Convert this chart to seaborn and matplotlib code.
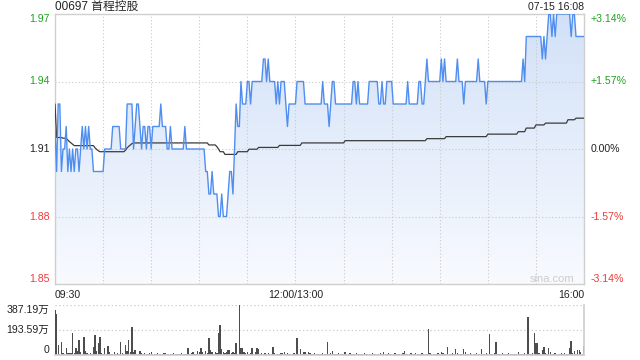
import numpy as np
import pandas as pd
import matplotlib
matplotlib.use("Agg")
import matplotlib.pyplot as plt
from matplotlib.colors import LinearSegmentedColormap
import seaborn as sns

# ---------------- data ----------------
title = "00697 首程控股"
stamp = "07-15 16:08"
prev_close = 1.91
price_ticks = [1.85, 1.88, 1.91, 1.94, 1.97]
pct_labels = ["-3.14%", "-1.57%", "0.00%", "+1.57%", "+3.14%"]
time_labels = ["09:30", "12:00/13:00", "16:00"]
vol_ticks = [0, 193.59, 387.19]
vol_labels = ["0", "193.59万", "387.19万"]

# one value per trading minute (09:30 .. 16:00, lunch removed)
price = [
    1.92, 1.90, 1.93, 1.93, 1.90, 1.91, 1.91, 1.92, 1.90, 1.91,
    1.90, 1.91, 1.90, 1.91, 1.91, 1.90, 1.91, 1.92, 1.91, 1.92,
    1.91, 1.92, 1.91, 1.91, 1.90, 1.90, 1.90, 1.90, 1.90, 1.90,
    1.90, 1.91, 1.91, 1.91, 1.91, 1.91, 1.92, 1.92, 1.92, 1.92,
    1.92, 1.91, 1.91, 1.91, 1.91, 1.93, 1.93, 1.93, 1.93, 1.91,
    1.92, 1.93, 1.93, 1.92, 1.91, 1.92, 1.92, 1.91, 1.92, 1.92,
    1.91, 1.92, 1.92, 1.92, 1.92, 1.92, 1.93, 1.92, 1.92, 1.92,
    1.91, 1.91, 1.92, 1.91, 1.91, 1.91, 1.91, 1.91, 1.91, 1.91,
    1.91, 1.92, 1.91, 1.91, 1.91, 1.91, 1.91, 1.91, 1.91, 1.91,
    1.91, 1.91, 1.91, 1.91, 1.90, 1.90, 1.89, 1.89, 1.90, 1.89,
    1.89, 1.89, 1.88, 1.88, 1.89, 1.88, 1.88, 1.88, 1.89, 1.90,
    1.90, 1.89, 1.91, 1.93, 1.92, 1.92, 1.94, 1.93, 1.93, 1.93,
    1.94, 1.94, 1.93, 1.94, 1.94, 1.94, 1.94, 1.94, 1.94, 1.94,
    1.95, 1.95, 1.94, 1.95, 1.94, 1.94, 1.94, 1.94, 1.93, 1.94,
    1.93, 1.94, 1.94, 1.94, 1.93, 1.92, 1.93, 1.93, 1.93, 1.93,
    1.93, 1.94, 1.94, 1.94, 1.94, 1.94, 1.93, 1.93, 1.93, 1.93,
    1.93, 1.93, 1.93, 1.93, 1.93, 1.93, 1.93, 1.94, 1.93, 1.93,
    1.93, 1.92, 1.93, 1.94, 1.94, 1.93, 1.93, 1.93, 1.93, 1.93,
    1.93, 1.93, 1.93, 1.93, 1.93, 1.93, 1.94, 1.94, 1.93, 1.94,
    1.93, 1.93, 1.93, 1.93, 1.93, 1.93, 1.94, 1.94, 1.94, 1.94,
    1.94, 1.94, 1.93, 1.93, 1.94, 1.93, 1.93, 1.94, 1.94, 1.94,
    1.94, 1.93, 1.93, 1.93, 1.93, 1.93, 1.93, 1.93, 1.93, 1.93,
    1.94, 1.93, 1.93, 1.93, 1.93, 1.93, 1.93, 1.94, 1.94, 1.93,
    1.93, 1.94, 1.95, 1.94, 1.94, 1.94, 1.94, 1.94, 1.94, 1.94,
    1.94, 1.95, 1.94, 1.95, 1.94, 1.94, 1.94, 1.94, 1.94, 1.94,
    1.94, 1.95, 1.94, 1.94, 1.94, 1.93, 1.94, 1.94, 1.94, 1.94,
    1.94, 1.94, 1.94, 1.94, 1.95, 1.94, 1.94, 1.94, 1.94, 1.93,
    1.94, 1.94, 1.94, 1.94, 1.94, 1.94, 1.94, 1.94, 1.94, 1.94,
    1.94, 1.94, 1.94, 1.94, 1.94, 1.94, 1.94, 1.94, 1.94, 1.94,
    1.94, 1.94, 1.95, 1.94, 1.96, 1.96, 1.96, 1.96, 1.96, 1.96,
    1.96, 1.96, 1.96, 1.96, 1.95, 1.96, 1.95, 1.96, 1.97, 1.97,
    1.96, 1.97, 1.96, 1.97, 1.97, 1.97, 1.97, 1.97, 1.97, 1.97,
    1.97, 1.97, 1.96, 1.97, 1.97, 1.96, 1.96, 1.96, 1.96, 1.96, 1.96,
]

# average price line as (level, minutes) runs
avg_levels = [1.9300, 1.9151, 1.9148, 1.9140, 1.9133, 1.9127, 1.9121, 1.9115,
              1.9105, 1.9098, 1.9092, 1.9088, 1.9095, 1.9105, 1.9112, 1.9118,
              1.9124, 1.9127, 1.9118, 1.9110, 1.9100, 1.9088, 1.9076, 1.9088,
              1.9099, 1.9107, 1.9116, 1.9127, 1.9137, 1.9146, 1.9155, 1.9166,
              1.9177, 1.9193, 1.9207, 1.9215, 1.9230, 1.9237]
avg_runs = [1, 4, 3, 1, 1, 1, 1, 13,
            1, 1, 1, 16, 1, 1, 1, 1,
            1, 47, 5, 1, 1, 3, 8, 7,
            6, 13, 14, 27, 51, 12, 26, 19,
            5, 6, 6, 14, 5, 6]

# volume per minute, in 万
volume = [
    352, 317, 77, 10, 103, 15, 8, 52, 18, 12,
    15, 173, 18, 52, 34, 116, 26, 10, 142, 34,
    18, 8, 13, 5, 65, 155, 34, 90, 142, 18,
    8, 52, 10, 70, 26, 8, 5, 21, 5, 13,
    8, 103, 18, 10, 78, 34, 116, 20, 219, 26,
    39, 8, 10, 34, 18, 8, 18, 10, 5, 13,
    21, 8, 10, 5, 13, 8, 10, 5, 13, 18,
    8, 5, 10, 8, 13, 5, 8, 10, 5, 13,
    8, 5, 10, 52, 8, 13, 21, 5, 10, 34,
    26, 52, 26, 10, 34, 13, 129, 39, 26, 8,
    21, 13, 173, 232, 44, 26, 13, 26, 39, 39,
    18, 26, 13, 95, 10, 387, 52, 52, 26, 18,
    26, 8, 13, 52, 10, 26, 52, 44, 10, 18,
    8, 13, 10, 18, 5, 10, 65, 18, 8, 10,
    5, 18, 13, 21, 8, 13, 5, 10, 8, 13,
    5, 134, 8, 44, 10, 21, 26, 8, 26, 13,
    8, 10, 13, 5, 8, 10, 8, 13, 5, 10,
    103, 8, 13, 34, 5, 10, 8, 13, 5, 10,
    8, 26, 10, 5, 13, 8, 10, 5, 13, 8,
    10, 8, 5, 13, 10, 8, 5, 10, 13, 8,
    5, 10, 8, 13, 10, 26, 8, 5, 13, 10,
    8, 5, 13, 10, 8, 5, 10, 13, 34, 8,
    10, 5, 13, 8, 10, 13, 5, 8, 10, 13,
    8, 5, 10, 199, 13, 8, 5, 10, 8, 13,
    10, 26, 13, 8, 5, 65, 10, 8, 13, 10,
    47, 13, 8, 10, 5, 47, 26, 10, 8, 13,
    5, 10, 8, 13, 10, 8, 44, 10, 5, 13,
    8, 163, 10, 5, 13, 103, 8, 10, 5, 13,
    8, 10, 5, 13, 8, 10, 5, 8, 10, 21,
    8, 5, 10, 13, 5, 297, 8, 10, 13, 173,
    90, 90, 13, 10, 39, 60, 13, 8, 57, 26,
    10, 8, 13, 5, 10, 8, 13, 10, 18, 8,
    10, 57, 111, 13, 34, 10, 39, 39, 26, 10, 72,
]

# ---------------- style ----------------
sns.set_theme(style="white")
plt.rcParams["font.family"] = ["Liberation Sans", "Noto Sans CJK SC", "DejaVu Sans"]

GREEN = "#1ea31e"
RED = "#f03a3a"
GRID = "#c9c9c9"
SPINE = "#cfcfcf"
FS = 7.6

fig = plt.figure(figsize=(6.4, 3.6), dpi=100)
ax = fig.add_axes([55 / 640, 1 - 284 / 360, 529 / 640, 270 / 360])
axv = fig.add_axes([55 / 640, 1 - 355 / 360, 529 / 640, 50 / 360])

minutes = np.arange(len(price))
df = pd.DataFrame({"m": minutes, "price": price})
avg = np.repeat(avg_levels, avg_runs)
dfa = pd.DataFrame({"m": np.arange(len(avg)), "avg": avg})
ymin, ymax = price_ticks[0], price_ticks[-1]
xmax = 330

# gradient area under the price line
poly = ax.fill_between(df["m"], df["price"], ymin, color="none", lw=0)
cmap = LinearSegmentedColormap.from_list("g", ["#f8fafe", "#d2e1f8"])
grad = np.linspace(0, 1, 256).reshape(-1, 1)
im = ax.imshow(grad, extent=[0, xmax, ymin, ymax], origin="lower",
               aspect="auto", cmap=cmap, zorder=1)
im.set_clip_path(poly.get_paths()[0], transform=ax.transData)

# grid
for t in np.arange(30, xmax, 30):
    ax.axvline(t, color=GRID, ls=(0, (1, 2)), lw=0.8, zorder=2)
for t in price_ticks[1:-1]:
    ax.axhline(t, color=GRID, ls=(0, (1, 2)), lw=0.8, zorder=2)

sns.lineplot(data=df, x="m", y="price", color="#4f8ef0", lw=1.0, ax=ax, zorder=4)
sns.lineplot(data=dfa, x="m", y="avg", color="#3b3b3b", lw=0.9, ax=ax, zorder=3)

ax.set_xlim(0, xmax)
ax.set_ylim(ymin, ymax)
ax.set_xlabel("")
ax.set_ylabel("")
ax.set_xticks([0, 150, xmax])
ax.set_xticklabels(time_labels, fontsize=FS, color="#222222")
for lab, ha in zip(ax.get_xticklabels(), ["left", "center", "right"]):
    lab.set_ha(ha)
ax.set_yticks(price_ticks)
ax.set_yticklabels([f"{v:.2f}" for v in price_ticks], fontsize=FS)
ycols = [RED, RED, "#222222", GREEN, GREEN]
yvas = ["bottom", "center", "center", "center", "top"]
for lab, c, va in zip(ax.get_yticklabels(), ycols, yvas):
    lab.set_color(c)
    lab.set_va(va)
ax.tick_params(axis="both", length=0)
ax.tick_params(axis="x", pad=4)
ax.tick_params(axis="y", pad=4)
for s in ax.spines.values():
    s.set_color(SPINE)
    s.set_linewidth(1.0)

ax2 = ax.twinx()
ax2.set_ylim(ymin, ymax)
ax2.set_yticks(price_ticks)
ax2.set_yticklabels(pct_labels, fontsize=FS)
for lab, c, va in zip(ax2.get_yticklabels(), ycols, yvas):
    lab.set_color(c)
    lab.set_va(va)
ax2.tick_params(axis="y", length=0, pad=5)
for s in ax2.spines.values():
    s.set_visible(False)

# volume panel
vdf = pd.DataFrame({"m": np.arange(len(volume)), "vol": volume})
sns.barplot(data=vdf, x="m", y="vol", native_scale=True, color="#4d4d4d",
            saturation=1, width=0.85, errorbar=None, linewidth=0, ax=axv)
axv.set_xlim(0, xmax)
axv.set_ylim(0, vol_ticks[-1])
axv.set_xlabel("")
axv.set_ylabel("")
axv.set_xticks([])
for t in vol_ticks[1:]:
    axv.axhline(t, color=GRID, ls=(0, (1, 2)), lw=0.9, zorder=0)
axv.set_yticks(vol_ticks)
axv.set_yticklabels(vol_labels, fontsize=FS, color="#222222")
for lab, va in zip(axv.get_yticklabels(), ["bottom", "center", "top"]):
    lab.set_va(va)
axv.tick_params(axis="y", length=0, pad=4)
axv.spines["top"].set_visible(False)
axv.spines["left"].set_visible(False)
axv.spines["right"].set_color(SPINE)
axv.spines["bottom"].set_color(SPINE)

# texts
fig.text(55 / 640, 1 - 7 / 360, title, ha="left", va="center",
         fontsize=8.5, color="#222222")
fig.text(584 / 640, 1 - 7 / 360, stamp, ha="right", va="center",
         fontsize=FS, color="#222222")
fig.text(574 / 640, 1 - 279 / 360, "sina.com", ha="right", va="center",
         fontsize=8, color="#cccccc")

fig.savefig("out.png", dpi=100)
